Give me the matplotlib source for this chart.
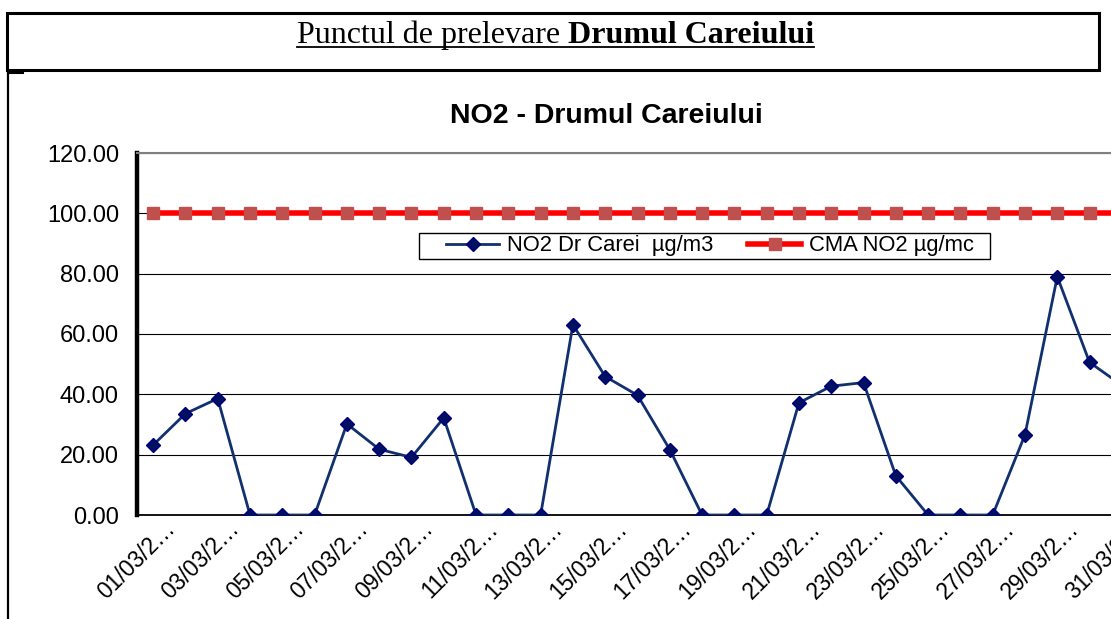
import numpy as np
import matplotlib
matplotlib.use('Agg')
import matplotlib.pyplot as plt
import matplotlib.transforms as mtransforms
from matplotlib.patches import Rectangle
from matplotlib.lines import Line2D

# --- data ---
categories = ['01/03/2…', '02/03/2…', '03/03/2…', '04/03/2…', '05/03/2…', '06/03/2…',
              '07/03/2…', '08/03/2…', '09/03/2…', '10/03/2…', '11/03/2…', '12/03/2…',
              '13/03/2…', '14/03/2…', '15/03/2…', '16/03/2…', '17/03/2…', '18/03/2…',
              '19/03/2…', '20/03/2…', '21/03/2…', '22/03/2…', '23/03/2…', '24/03/2…',
              '25/03/2…', '26/03/2…', '27/03/2…', '28/03/2…', '29/03/2…', '30/03/2…',
              '31/03/2…']
no2_values = [23.2, 33.6, 38.6, 0.0, 0.0, 0.0, 30.2, 21.8, 19.1, 32.2, 0.0, 0.0,
              0.0, 63.1, 45.9, 39.7, 21.7, 0.0, 0.0, 0.0, 37.2, 42.7, 43.9, 13.0,
              0.0, 0.0, 0.0, 26.6, 79.0, 50.6, 43.0]
cma_values = [100.0, 100.0, 100.0, 100.0, 100.0, 100.0, 100.0, 100.0, 100.0, 100.0,
              100.0, 100.0, 100.0, 100.0, 100.0, 100.0, 100.0, 100.0, 100.0, 100.0,
              100.0, 100.0, 100.0, 100.0, 100.0, 100.0, 100.0, 100.0, 100.0, 100.0,
              100.0]
y_ticks = [0, 20, 40, 60, 80, 100, 120]

header_regular = 'Punctul de prelevare'
header_bold = 'Drumul Careiului'
chart_title = 'NO2 - Drumul Careiului'
label_no2 = 'NO2 Dr Carei  µg/m3'
label_cma = 'CMA NO2 µg/mc'

W, H = 1111, 619
plt.rcParams['font.family'] = ['Liberation Sans', 'DejaVu Sans']

fig = plt.figure(figsize=(W / 100, H / 100), dpi=100)
fig.patch.set_facecolor('white')


def fx(px):
    return px / W


def fy(py):
    # pixel row from top -> figure fraction
    return 1 - py / H


# --- header box and page frame ---
fig.add_artist(Rectangle((fx(7), fy(70)), fx(1099) - fx(7), fy(13) - fy(70),
                         transform=fig.transFigure, fill=False, lw=2.2, ec='black'))
fig.add_artist(Line2D([fx(8), fx(8)], [fy(70), fy(625)], transform=fig.transFigure,
                      color='black', lw=1.6))
fig.add_artist(Line2D([fx(8), fx(22)], [fy(71.5), fy(71.5)], transform=fig.transFigure,
                      color='black', lw=2.2))

# header text: regular + bold, underlined
t1 = fig.text(fx(560), fy(43), header_regular, ha='right', va='baseline',
              family='Liberation Serif', fontsize=23)
t2 = fig.text(fx(560), fy(43), ' ' + header_bold, ha='left', va='baseline',
              family='Liberation Serif', fontsize=23, fontweight='bold')

# chart title
fig.text(fx(606), fy(123), chart_title, ha='center', va='baseline',
         fontsize=20.5, fontweight='bold')

# --- plot area ---
ax = fig.add_axes([fx(137), fy(515), fx(1138) - fx(137), fy(153) - fy(515)])
x = np.arange(len(categories))

ax.plot(x, cma_values, color='#FF0000', lw=4, marker='s', markersize=8,
        markerfacecolor='#C0504D', markeredgecolor='#C0504D', zorder=3,
        label=label_cma)
ax.plot(x, no2_values, color='#10306E', lw=2.0, marker='D', markersize=7,
        markerfacecolor='#001060', markeredgecolor='#000080', zorder=4,
        label=label_no2)

ax.set_xlim(-0.5, len(categories) - 0.5)
ax.set_ylim(0, 120)
ax.set_yticks(y_ticks)
ax.set_yticklabels([f'{v:.2f}' for v in y_ticks])
ax.yaxis.grid(True, color='black', lw=0.8)
ax.set_axisbelow(True)

ax.spines['left'].set_linewidth(3.2)
ax.spines['left'].set_color('black')
ax.spines['bottom'].set_linewidth(1.3)
ax.spines['top'].set_color('#808080')
ax.spines['top'].set_linewidth(1.5)
ax.spines['right'].set_color('#808080')

ax.tick_params(axis='y', length=0, pad=13, labelsize=17)
ax.tick_params(axis='x', length=0, pad=0, labelsize=16.5)

ax.set_xticks(x[::2])
ax.set_xticklabels(categories[::2], rotation=45, ha='right', va='top',
                   rotation_mode='anchor')
shift = mtransforms.ScaledTranslation(10 / 100, -2 / 100, fig.dpi_scale_trans)
for lab in ax.get_xticklabels():
    lab.set_transform(lab.get_transform() + shift)

# legend (frame drawn by hand for the wide side padding)
handles, labels = ax.get_legend_handles_labels()
leg = ax.legend(handles[::-1], labels[::-1], ncol=2, loc='center',
                bbox_to_anchor=(fx(710), fy(246)), bbox_transform=fig.transFigure,
                frameon=False, fontsize=15.8, handlelength=2.4, handletextpad=0.35,
                columnspacing=1.6, borderpad=0.1)

fig.canvas.draw()
r = fig.canvas.get_renderer()

# underline under header text
b1 = t1.get_window_extent(r)
b2 = t2.get_window_extent(r)
fig.add_artist(Line2D([b1.x0 / W, b2.x1 / W], [fy(46.5), fy(46.5)],
                      transform=fig.transFigure, color='black', lw=1.3))

# legend frame
fig.add_artist(Rectangle((fx(419), fy(259)), fx(990) - fx(419), fy(233) - fy(259),
                         transform=fig.transFigure, fill=False, lw=1.0, ec='black',
                         zorder=5))

fig.savefig('out.png', dpi=100, facecolor='white')
